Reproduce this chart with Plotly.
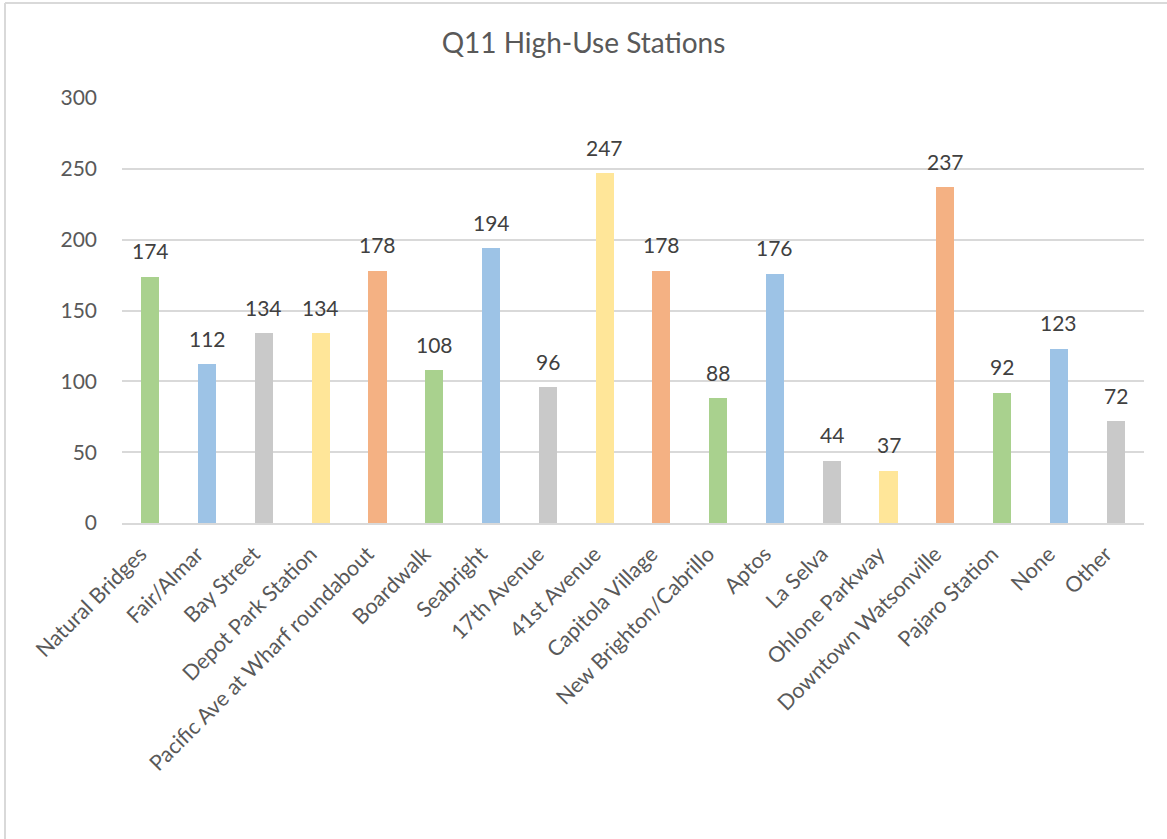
import plotly.graph_objects as go

categories = ["Natural Bridges", "Fair/Almar", "Bay Street", "Depot Park Station",
              "Pacific Ave at Wharf roundabout", "Boardwalk", "Seabright", "17th Avenue",
              "41st Avenue", "Capitola Village", "New Brighton/Cabrillo", "Aptos",
              "La Selva", "Ohlone Parkway", "Downtown Watsonville", "Pajaro Station",
              "None", "Other"]
values = [174, 112, 134, 134, 178, 108, 194, 96, 247, 178, 88, 176, 44, 37, 237, 92, 123, 72]
palette = ["#A9D18E", "#9DC3E6", "#C9C9C9", "#FFE699", "#F4B183"]
bar_colors = [palette[i % len(palette)] for i in range(len(categories))]
y_ticks = [0, 50, 100, 150, 200, 250, 300]

FONT = "Lato, Open Sans, sans-serif"
TXT = "#595959"

fig = go.Figure()
fig.add_trace(go.Bar(x=categories, y=values, marker=dict(color=bar_colors, line=dict(width=0)),
                     width=0.32, hoverinfo="x+y"))

for c, v in zip(categories, values):
    fig.add_annotation(x=c, y=v, text=str(v), showarrow=False, yanchor="middle", yshift=26,
                       font=dict(family=FONT, size=21, color="#404040"))

W, H = 1167, 839
ml, mr, mt, mb = 122, 23, 98, 316
pw, ph = W - ml - mr, H - mt - mb
# outer chart border (top and left edges)
x0 = (5 - ml) / pw
y_top = (H - 3 - mb) / ph
fig.add_shape(type="line", xref="paper", yref="paper", x0=x0, x1=(W + 5 - ml) / pw, y0=y_top, y1=y_top,
              line=dict(color="#D9D9D9", width=2), layer="below")
fig.add_shape(type="line", xref="paper", yref="paper", x0=x0, x1=x0, y0=y_top, y1=(-5 - mb) / ph,
              line=dict(color="#D9D9D9", width=2), layer="below")

fig.update_layout(
    width=W, height=H,
    margin=dict(l=ml, r=mr, t=mt, b=mb, autoexpand=False),
    paper_bgcolor="white", plot_bgcolor="white",
    title=dict(text="Q11 High-Use Stations", x=0.5, xanchor="center", y=1 - 43 / H, yanchor="middle",
               font=dict(family=FONT, size=28, color=TXT)),
    font=dict(family=FONT, color=TXT),
    showlegend=False,
    bargap=0,
    xaxis=dict(tickangle=-45, tickfont=dict(size=21.5, color=TXT), showgrid=False,
               showline=True, linecolor="#D9D9D9", linewidth=2, ticks="", automargin=False,
               ticklabelstandoff=8, ticklabelshift=-10),
    yaxis=dict(range=[0, 300], tickvals=y_ticks, tickfont=dict(size=21, color=TXT),
               showgrid=True, gridcolor="#D9D9D9", gridwidth=2, zeroline=False,
               showline=False, ticks="", ticklabelstandoff=24, automargin=False),
)

fig.write_html("out.html", config={"displayModeBar": False},
               post_script="document.body.style.margin='0';document.body.style.overflow='hidden';")
